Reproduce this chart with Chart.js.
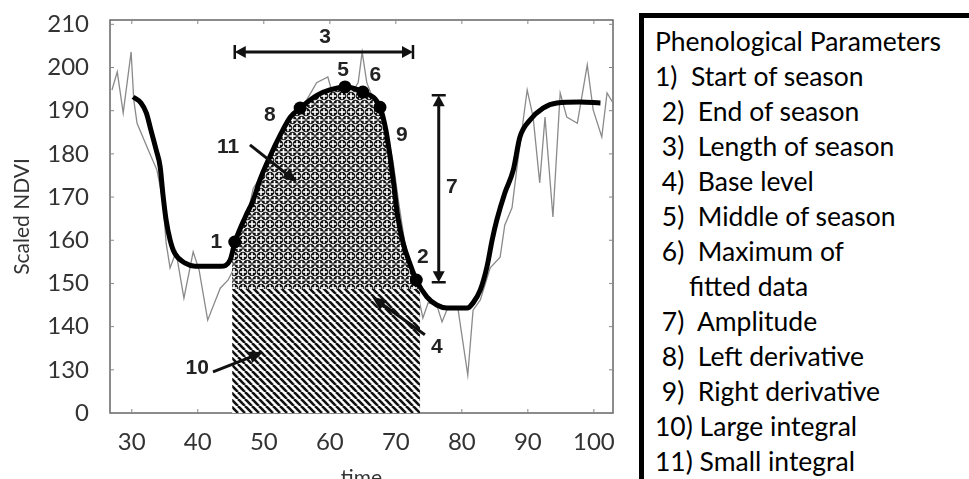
<!DOCTYPE html>
<html>
<head>
<meta charset="utf-8">
<script src="https://cdn.jsdelivr.net/npm/chart.js@4"></script>
<style>
  html, body { margin: 0; padding: 0; background: #fff; overflow: hidden; width: 969px; height: 479px; }
  #wrap { position: absolute; left: 0; top: 0; width: 625px; height: 492px; }
  #params {
    position: absolute; left: 639px; top: 13px; width: 400px; height: 520px;
    border-left: 5px solid #000; border-top: 5px solid #000;
    font-family: Lato, "Open Sans", sans-serif; font-size: 26.5px; color: #000;
    padding: 6px 0 0 11px; line-height: 35px; white-space: pre;
  }
</style>
</head>
<body>
<div id="wrap"><canvas id="chart"></canvas></div>
<div id="params"></div>
<script>
// raw NDVI samples (thin grey line)
const rawX = [27.0, 27.8, 28.7, 29.9, 30.3, 30.8, 32.5, 33.8, 34.7, 35.2, 35.8, 36.7, 37.9, 39.3, 40.2, 41.5, 43.4, 44.6,
  46.3, 47.6, 48.4, 49.8, 51.5, 53.0, 54.8, 56.5, 58.0, 59.7, 60.4, 61.5, 61.8, 62.2, 63.5, 64.3, 64.9, 65.6, 66.5, 67.8,
  68.8, 69.6, 70.5, 71.3, 72.2, 73.0, 74.1, 74.9, 76.2, 77.0, 77.9, 79.4, 80.9, 81.7, 82.8, 84.3, 85.8, 86.5, 87.6, 88.4,
  89.9, 90.8, 91.8, 92.6, 93.8, 94.9, 95.9, 97.5, 99.0, 99.9, 101.2, 102.0, 102.9];
const rawY = [194.8, 199.0, 189.5, 203.6, 192.5, 187.1, 180.9, 176.3, 169.3, 159.4, 153.6, 157.3, 146.6, 157.3, 153.1, 141.5, 148.9, 150.8,
  156.0, 166.5, 172.0, 175.5, 181.0, 186.5, 189.0, 192.5, 196.5, 197.8, 194.0, 195.0, 136.2, 193.5, 194.5, 196.5, 203.6, 196.5, 193.0, 190.0,
  184.0, 178.0, 168.0, 160.0, 154.0, 150.0, 142.0, 145.5, 145.0, 141.1, 144.5, 144.3, 128.8, 143.8, 146.2, 153.6, 156.1, 163.5, 167.5, 177.4,
  194.8, 188.5, 173.3, 188.5, 165.4, 194.1, 188.5, 187.1, 200.6, 190.2, 183.9, 194.1, 191.8];

// fitted curve (thick black line)
const fitX = [30.2, 31.4, 32.2, 32.9, 33.7, 34.3, 34.7, 35.2, 35.8, 36.5, 38.1, 39.6, 43.5, 44.9, 45.6, 47.2, 48.4, 49.4, 50.9,
  52.5, 54.0, 55.5, 58.1, 60.0, 62.3, 65.0, 67.6, 68.5, 69.1, 69.7, 70.3, 71.1, 72.2, 73.1, 74.7, 76.2, 77.8, 80.8, 81.7,
  82.8, 83.8, 84.6, 85.3, 86.5, 87.8, 88.8, 90.3, 92.3, 94.4, 97.9, 101.0];
const fitY = [193.2, 191.8, 189.5, 185.5, 180.9, 177.0, 170.9, 164.7, 160.1, 157.0, 154.7, 154.0, 154.0, 155.4, 159.4, 165.4, 169.3, 173.9, 179.3,
  184.4, 188.5, 190.6, 193.6, 194.8, 195.5, 194.3, 190.8, 185.5, 179.7, 172.8, 165.4, 159.4, 154.3, 150.8, 146.9, 145.0, 144.3, 144.3, 145.5,
  148.5, 153.8, 160.1, 164.7, 170.9, 176.3, 183.9, 187.8, 190.6, 191.8, 192.0, 191.8];

// season window and base level
const seasonStart = 45.2, seasonEnd = 73.7, baseLevel = 148.7;
const seasonStartY = 157.5, seasonEndY = 149.3;

// marked parameter points: 1, 2, 5, 6, 8, 9
const markX = [45.6, 73.1, 62.3, 65.0, 55.5, 67.6];
const markY = [159.6, 150.8, 195.5, 194.3, 190.6, 190.8];

// number labels
const noteText = ['1', '2', '3', '4', '5', '6', '7', '8', '9', '10', '11'];
const noteX = [42.8, 74.1, 59.3, 76.2, 62.0, 66.9, 78.5, 50.9, 70.9, 39.9, 44.6];
const noteY = [159.6, 156.1, 207.1, 135.3, 199.4, 198.3, 172.3, 189.0, 184.4, 130.4, 181.6];

// single arrows for 10, 11, 4 : tail -> head
const arrowFromX = [42.3, 47.9, 74.4];
const arrowFromY = [129.5, 182.1, 138.1];
const arrowToX = [49.9, 55.0, 66.4];
const arrowToY = [134.1, 173.5, 146.9];

// double arrows: length of season (3) and amplitude (7)
const lengthArrowY = 203.6, lengthArrowX = [45.6, 72.6];
const ampArrowX = 76.5, ampArrowY = [150.3, 193.6];

const xTicks = [30, 40, 50, 60, 70, 80, 90, 100];
const yTicks = [120, 130, 140, 150, 160, 170, 180, 190, 200, 210];
const yTickLabels = ['0', '130', '140', '150', '160', '170', '180', '190', '200', '210'];

const paramLines = [
  'Phenological Parameters',
  '1)  Start of season',
  ' 2)  End of season',
  ' 3)  Length of season',
  ' 4)  Base level',
  ' 5)  Middle of season',
  ' 6)  Maximum of',
  '     fitted data',
  ' 7)  Amplitude',
  ' 8)  Left derivative',
  ' 9)  Right derivative',
  '10) Large integral',
  '11) Small integral'
];
document.getElementById('params').textContent = paramLines.join('\n');

function pts(xs, ys) { return xs.map((x, i) => ({ x, y: ys[i] })); }

function crossPattern() {
  const w = 9, h = 16;
  const c = document.createElement('canvas');
  c.width = w; c.height = h;
  const g = c.getContext('2d');
  g.fillStyle = '#fff';
  g.fillRect(0, 0, w, h);
  const centers = [[w / 2, h / 2], [0, 0], [w, 0], [0, h], [w, h]];
  g.fillStyle = '#111';
  centers.forEach(([cx, cy]) => { g.beginPath(); g.arc(cx, cy, 4.3, 0, Math.PI * 2); g.fill(); });
  g.fillStyle = '#fff';
  centers.forEach(([cx, cy]) => {
    g.fillRect(cx - 3.2, cy - 0.8, 6.4, 1.6);
    g.fillRect(cx - 0.8, cy - 3.2, 1.6, 6.4);
  });
  return g.createPattern(c, 'repeat');
}

function diagPattern() {
  const p = 7;
  const c = document.createElement('canvas');
  c.width = p; c.height = p;
  const g = c.getContext('2d');
  g.fillStyle = '#fff';
  g.fillRect(0, 0, p, p);
  g.strokeStyle = '#111';
  g.lineWidth = 2.6;
  [-p, 0, p].forEach(k => {
    g.beginPath(); g.moveTo(k, 0); g.lineTo(k + p, p); g.stroke();
  });
  return g.createPattern(c, 'repeat');
}

const smallX = [seasonStart, ...fitX.filter(x => x > seasonStart && x < seasonEnd), seasonEnd];
const smallY = [seasonStartY, ...fitY.filter((y, i) => fitX[i] > seasonStart && fitX[i] < seasonEnd), seasonEndY];

const frame = {
  id: 'frame',
  beforeDatasetsDraw(chart) {
    const { ctx, chartArea: a, scales: { x, y } } = chart;
    ctx.save();
    ctx.strokeStyle = '#666';
    ctx.lineWidth = 1.5;
    ctx.strokeRect(a.left, a.top, a.right - a.left, a.bottom - a.top);
    ctx.lineWidth = 1;
    ctx.strokeStyle = '#888';
    xTicks.forEach(v => {
      const px = x.getPixelForValue(v);
      ctx.beginPath();
      ctx.moveTo(px, a.top); ctx.lineTo(px, a.top + 4);
      ctx.moveTo(px, a.bottom); ctx.lineTo(px, a.bottom - 4);
      ctx.stroke();
    });
    yTicks.forEach(v => {
      const py = y.getPixelForValue(v);
      ctx.beginPath();
      ctx.moveTo(a.left, py); ctx.lineTo(a.left + 4, py);
      ctx.moveTo(a.right, py); ctx.lineTo(a.right - 4, py);
      ctx.stroke();
    });
    ctx.restore();
  },
  afterDatasetsDraw(chart) {
    const { ctx, scales: { x, y } } = chart;
    const X = v => x.getPixelForValue(v), Y = v => y.getPixelForValue(v);
    ctx.save();
    ctx.fillStyle = '#111';
    ctx.strokeStyle = '#111';

    const head = (tx, ty, ang, len, half) => {
      ctx.beginPath();
      ctx.moveTo(tx, ty);
      ctx.lineTo(tx - len * Math.cos(ang) + half * Math.sin(ang), ty - len * Math.sin(ang) - half * Math.cos(ang));
      ctx.lineTo(tx - len * Math.cos(ang) - half * Math.sin(ang), ty - len * Math.sin(ang) + half * Math.cos(ang));
      ctx.closePath();
      ctx.fill();
    };

    // single arrows
    ctx.lineWidth = 3;
    arrowFromX.forEach((fx, i) => {
      const x0 = X(fx), y0 = Y(arrowFromY[i]), x1 = X(arrowToX[i]), y1 = Y(arrowToY[i]);
      const ang = Math.atan2(y1 - y0, x1 - x0);
      ctx.beginPath();
      ctx.moveTo(x0, y0);
      ctx.lineTo(x1 - 8 * Math.cos(ang), y1 - 8 * Math.sin(ang));
      ctx.stroke();
      head(x1, y1, ang, 14, 6);
    });

    // length of season arrow
    const ly = Y(lengthArrowY), lx0 = X(lengthArrowX[0]), lx1 = X(lengthArrowX[1]);
    ctx.lineWidth = 3;
    ctx.beginPath(); ctx.moveTo(lx0 + 6, ly); ctx.lineTo(lx1 - 6, ly); ctx.stroke();
    head(lx0, ly, Math.PI, 11, 6);
    head(lx1, ly, 0, 11, 6);
    ctx.lineWidth = 2.5;
    ctx.beginPath();
    ctx.moveTo(lx0, ly - 7); ctx.lineTo(lx0, ly + 7);
    ctx.moveTo(lx1, ly - 7); ctx.lineTo(lx1, ly + 7);
    ctx.stroke();

    // amplitude arrow
    const ax = X(ampArrowX), ay0 = Y(ampArrowY[0]), ay1 = Y(ampArrowY[1]);
    ctx.lineWidth = 3;
    ctx.beginPath(); ctx.moveTo(ax, ay1 + 6); ctx.lineTo(ax, ay0 - 6); ctx.stroke();
    head(ax, ay1, -Math.PI / 2, 11, 6);
    head(ax, ay0, Math.PI / 2, 11, 6);
    ctx.lineWidth = 2.5;
    ctx.beginPath();
    ctx.moveTo(ax - 7, ay1); ctx.lineTo(ax + 7, ay1);
    ctx.moveTo(ax - 7, ay0); ctx.lineTo(ax + 7, ay0);
    ctx.stroke();

    // numbers
    ctx.font = 'bold 21px "Liberation Sans", Arial, sans-serif';
    ctx.textAlign = 'center';
    ctx.textBaseline = 'middle';
    ctx.fillStyle = '#222';
    noteText.forEach((t, i) => ctx.fillText(t, X(noteX[i]), Y(noteY[i])));
    ctx.restore();
  }
};

const tickFont = { family: 'Lato, "Open Sans", sans-serif', size: 24 };
const titleFont = { family: 'Lato, "Open Sans", sans-serif', size: 21 };

new Chart(document.getElementById('chart'), {
  type: 'line',
  data: {
    datasets: [
      {
        label: 'marks', type: 'scatter', data: pts(markX, markY),
        pointRadius: 6.5, pointBackgroundColor: '#000', pointBorderWidth: 0, order: 0
      },
      {
        label: 'fitted', data: pts(fitX, fitY), borderColor: '#000', borderWidth: 5,
        cubicInterpolationMode: 'monotone', pointRadius: 0, fill: false, order: 1
      },
      {
        label: 'small integral', data: pts(smallX, smallY), borderWidth: 0, borderColor: 'rgba(0,0,0,0)',
        backgroundColor: crossPattern(), cubicInterpolationMode: 'monotone', pointRadius: 0,
        fill: { value: baseLevel }, order: 2
      },
      {
        label: 'large integral', data: pts([seasonStart, seasonEnd], [baseLevel, baseLevel]), borderWidth: 0,
        borderColor: 'rgba(0,0,0,0)', backgroundColor: diagPattern(), pointRadius: 0, fill: 'start', order: 3
      },
      {
        label: 'raw', data: pts(rawX, rawY), borderColor: '#8a8a8a', borderWidth: 1.3,
        tension: 0, pointRadius: 0, fill: false, order: 4
      }
    ]
  },
  options: {
    responsive: true,
    maintainAspectRatio: false,
    animation: false,
    layout: { padding: { top: 20, right: 12, left: 0, bottom: 0 } },
    plugins: { legend: { display: false }, tooltip: { enabled: false } },
    scales: {
      x: {
        type: 'linear', min: 26.7, max: 102.9,
        afterBuildTicks: s => { s.ticks = xTicks.map(v => ({ value: v })); },
        afterFit: s => { s.height = 79; s.paddingLeft = 0; s.paddingRight = 0; },
        grid: { display: false, drawTicks: false },
        border: { display: false },
        ticks: { padding: 15, color: '#333', font: tickFont, maxRotation: 0 },
        title: { display: true, text: 'time', color: '#333', font: titleFont, padding: { top: 0, bottom: 1 } }
      },
      y: {
        type: 'linear', min: 120, max: 211,
        afterBuildTicks: s => { s.ticks = yTicks.map(v => ({ value: v })); },
        afterFit: s => { s.width = 110; s.paddingTop = 0; s.paddingBottom = 0; },
        grid: { display: false, drawTicks: false },
        border: { display: false },
        ticks: { padding: 21, color: '#333', font: tickFont, callback: v => yTickLabels[yTicks.indexOf(v)] },
        title: { display: true, text: 'Scaled NDVI', color: '#333', font: titleFont, padding: { top: 10, bottom: 0 } }
      }
    }
  },
  plugins: [frame]
});
</script>
</body>
</html>
